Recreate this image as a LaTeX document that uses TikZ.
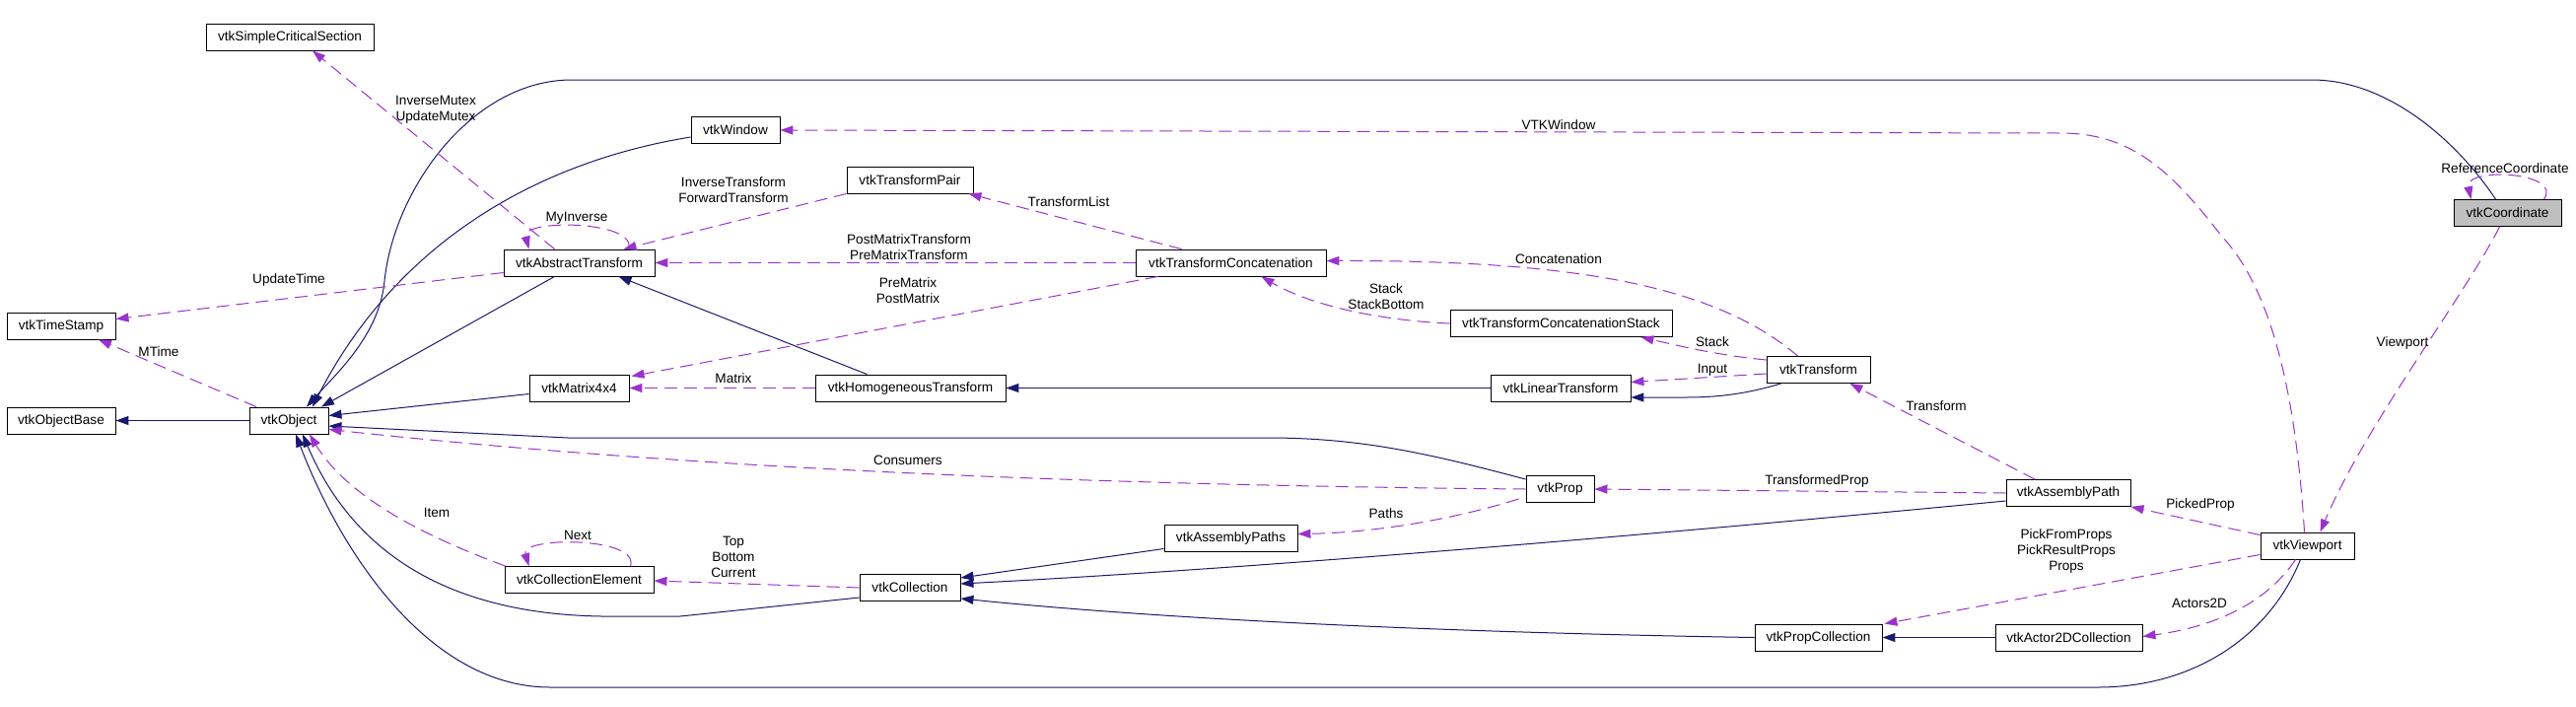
\documentclass[tikz,border=0pt]{standalone}
\usepackage{fontspec}
\setmainfont{Liberation Sans}
\usetikzlibrary{arrows.meta,calc}
\definecolor{navy}{HTML}{191970}
\definecolor{orchid}{HTML}{9A32CD}
\definecolor{focusgray}{HTML}{BFBFBF}
\tikzset{
  cls/.style={draw=black, line width=0.9pt, minimum height=27pt, inner sep=0pt, text=black},
  inh/.style={draw=navy, line width=1pt, -{Triangle[length=13pt,width=9pt]}},
  use/.style={draw=orchid, line width=1pt, dash pattern=on 13pt off 7pt, -{Triangle[length=13pt,width=9pt]}},
  lbl/.style={inner sep=0pt, align=center, text=black}
}
\begin{document}
\begin{tikzpicture}[x=1pt, y=-1pt, font=\fontsize{13.6}{16}\selectfont]
\fill[white] (0,0) rectangle (2613,716);
\useasboundingbox (0,0) rectangle (2613,716);

% nodes
\node[cls, minimum width=170pt] (scs) at (294,37.5) {vtkSimpleCriticalSection};
\node[cls, minimum width=153pt] (at) at (587.5,266.5) {vtkAbstractTransform};
\node[cls, minimum width=110pt] (ts) at (62,330.5) {vtkTimeStamp};
\node[cls, minimum width=110pt] (ob) at (62,426.5) {vtkObjectBase};
\node[cls, minimum width=80pt] (obj) at (293,426.5) {vtkObject};
\node[cls, minimum width=101pt] (m44) at (587.5,393.5) {vtkMatrix4x4};
\node[cls, minimum width=151pt] (ce) at (587.5,588) {vtkCollectionElement};
\node[cls, minimum width=90pt] (win) at (746,132) {vtkWindow};
\node[cls, minimum width=128pt] (tp) at (923,182.5) {vtkTransformPair};
\node[cls, minimum width=193pt] (tc) at (1248.5,266.5) {vtkTransformConcatenation};
\node[cls, minimum width=193pt] (ht) at (923.5,393.5) {vtkHomogeneousTransform};
\node[cls, minimum width=135pt] (aps) at (1248.5,545.5) {vtkAssemblyPaths};
\node[cls, minimum width=102pt] (col) at (923,596) {vtkCollection};
\node[cls, minimum width=225pt] (tcs) at (1583.5,328) {vtkTransformConcatenationStack};
\node[cls, minimum width=105pt] (tr) at (1844.5,375) {vtkTransform};
\node[cls, minimum width=142pt] (lt) at (1583,393.5) {vtkLinearTransform};
\node[cls, minimum width=69pt] (prop) at (1582.5,496) {vtkProp};
\node[cls, minimum width=129pt] (pc) at (1844.5,646.5) {vtkPropCollection};
\node[cls, minimum width=109pt, fill=focusgray] (coord) at (2543.5,216) {vtkCoordinate};
\node[cls, minimum width=126pt] (ap) at (2098,500) {vtkAssemblyPath};
\node[cls, minimum width=95pt] (vp) at (2340.5,553.5) {vtkViewport};
\node[cls, minimum width=149pt] (a2d) at (2098.5,646.5) {vtkActor2DCollection};

% inheritance
\draw[inh] (obj.west) -- (ob.east);
\draw[inh] ($(at.south)+(-25,0)$) -- ($(obj.north)+(33,0)$);
\draw[inh] ($(m44.west)+(0,6)$) -- ($(obj.east)+(0,-5)$);
\draw[inh] ($(win.west)+(0,7)$) .. controls (540,165) and (400,250) .. ($(obj.north)+(24,0)$);
\draw[inh] ($(coord.north)+(-12,0)$) .. controls (2490,140) and (2420,81) .. (2345,81) -- (580,81)
   .. controls (480,81) and (400,190) .. (390,285) .. controls (385,340) and (340,380) .. ($(obj.north)+(18,0)$);
\draw[inh] ($(prop.north west)+(0,4)$) .. controls (1450,460) and (1380,444) .. (1286,444) -- (576,444) -- ($(obj.east)+(0,5.5)$);
\draw[inh] ($(col.west)+(0,10)$) -- (690,625) -- (610,625) .. controls (420,622) and (345,530) .. ($(obj.south)+(14,0)$);
\draw[inh] ($(vp.south)+(-7,0)$) .. controls (2300,650) and (2220,697) .. (2128,697) -- (558,697)
   .. controls (440,697) and (350,570) .. ($(obj.south)+(7,0)$);
\draw[inh] ($(ht.north)+(-44,0)$) -- ($(at.south)+(40,0)$);
\draw[inh] (lt.west) -- (ht.east);
\draw[inh] ($(tr.south west)+(15,0)$) .. controls (1770,400) and (1740,403) .. (1710,403) -- ($(lt.east)+(0,9.5)$);
\draw[inh] ($(aps.west)+(0,11)$) -- ($(col.east)+(0,-10)$);
\draw[inh] ($(ap.west)+(0,8)$) .. controls (1700,540) and (1300,575) .. ($(col.east)+(0,-4)$);
\draw[inh] (pc.west) .. controls (1500,642) and (1200,630) .. ($(col.east)+(0,11)$);
\draw[inh] (a2d.west) -- (pc.east);

% usage (dashed)
\draw[use] ($(at.north)+(-25,0)$) -- ($(scs.south)+(23,0)$);
\draw[use] ($(at.west)+(0,10)$) -- ($(ts.east)+(0,-7)$);
\draw[use] ($(at.north)+(50,0)$) .. controls +(10,-29) and +(-8,-31) .. ($(at.north)+(-51,0)$);
\draw[use] (tp.south west) -- ($(at.north)+(45,0)$);
\draw[use] (tc.west) -- (at.east);
\draw[use] ($(tc.south west)+(23,0)$) -- ($(m44.north east)+(2,2)$);
\draw[use] ($(tc.north west)+(47,0)$) -- ($(tp.south east)+(-5,0)$);
\draw[use] (ht.west) -- (m44.east);
\draw[use] (tcs.west) .. controls (1400,325) and (1330,310) .. ($(tc.south)+(31,0)$);
\draw[use] ($(tr.north)+(-21,0)$) .. controls (1740,290) and (1600,264) .. ($(tc.east)+(0,-2)$);
\draw[use] ($(tr.west)+(0,-10)$) .. controls (1740,360) and (1700,350) .. ($(tcs.south east)+(-32,0)$);
\draw[use] ($(tr.west)+(0,4)$) -- ($(lt.east)+(0,-6)$);
\draw[use] ($(ap.north)+(-34,0)$) -- ($(tr.south)+(32,0)$);
\draw[use] (ap.west) -- (prop.east);
\draw[use] (prop.west) .. controls (1100,492) and (700,475) .. ($(obj.east)+(0,9)$);
\draw[use] ($(ce.north west)+(1,0)$) .. controls (420,540) and (350,500) .. ($(obj.south)+(21,0)$);
\draw[use] ($(ce.north)+(52,0)$) .. controls +(10,-30) and +(-9,-30) .. ($(ce.north)+(-51,0)$);
\draw[use] (col.west) -- ($(ce.east)+(0,1)$);
\draw[use] ($(prop.south west)+(-7,-4)$) .. controls (1480,525) and (1400,540) .. ($(aps.east)+(0,-4)$);
\draw[use] ($(vp.north)+(-3,0)$) .. controls (2330,420) and (2310,300) .. (2254,240)
   .. controls (2200,170) and (2160,135) .. (2090,135) -- (win.east);
\draw[use] ($(coord.south)+(-8,0)$) .. controls (2500,300) and (2400,430) .. ($(vp.north)+(13,0)$);
\draw[use] ($(coord.north)+(37,0)$) .. controls +(20,-28) and +(-7,-33) .. ($(coord.north)+(-37,0)$);
\draw[use] ($(vp.north west)+(0,3)$) -- (ap.south east);
\draw[use] ($(vp.west)+(0,9)$) -- ($(pc.north east)+(2,0)$);
\draw[use] ($(vp.south)+(-12,0)$) .. controls (2300,610) and (2250,635) .. ($(a2d.east)+(0,-1)$);
\draw[use] ($(obj.north)+(-33,0)$) -- ($(ts.south)+(38,0)$);

% labels
\node[lbl] (l1) at (442,111) {InverseMutex\\UpdateMutex};
\node[lbl] (l2) at (293,284) {UpdateTime};
\node[lbl] (l3) at (585,221) {MyInverse};
\node[lbl] (l4) at (744,193) {InverseTransform\\ForwardTransform};
\node[lbl] (l5) at (1084,205) {TransformList};
\node[lbl] (l6) at (922,251) {PostMatrixTransform\\PreMatrixTransform};
\node[lbl] (l7) at (921,295) {PreMatrix\\PostMatrix};
\node[lbl] (l8) at (744,384) {Matrix};
\node[lbl] (l9) at (1581,127) {VTKWindow};
\node[lbl] (l10) at (1581,263) {Concatenation};
\node[lbl] (l11) at (1406,301) {Stack\\StackBottom};
\node[lbl] (l12) at (1737,347) {Stack};
\node[lbl] (l13) at (1737,375) {Input};
\node[lbl] (l14) at (1964,412) {Transform};
\node[lbl] (l15) at (1843,488) {TransformedProp};
\node[lbl] (l16) at (921,467) {Consumers};
\node[lbl] (l17) at (1406,521) {Paths};
\node[lbl] (l18) at (443,520) {Item};
\node[lbl] (l19) at (586,543) {Next};
\node[lbl] (l20) at (744,565) {Top\\Bottom\\Current};
\node[lbl] (l21) at (161,357) {MTime};
\node[lbl] (l22) at (2541,171) {ReferenceCoordinate};
\node[lbl] (l23) at (2437,348) {Viewport};
\node[lbl] (l24) at (2232,512) {PickedProp};
\node[lbl] (l25) at (2096,559) {PickFromProps\\PickResultProps\\Props};
\node[lbl] (l26) at (2231,612) {Actors2D};
\end{tikzpicture}
\end{document}
